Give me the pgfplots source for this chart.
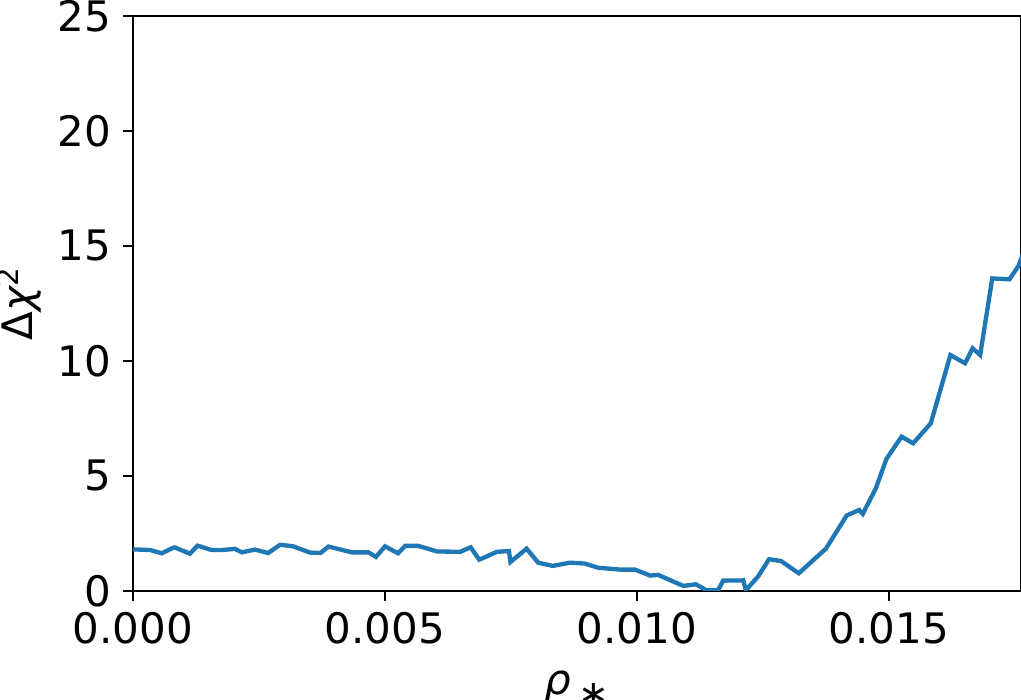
\documentclass[border=0pt]{standalone}
\usepackage{fontspec}
\setmainfont{DejaVu Sans}
\usepackage{pgfplots}
\pgfplotsset{compat=1.18}
\definecolor{c0}{HTML}{1F77B4}
\newcommand{\lblfont}{\fontsize{12.6}{15}\selectfont}

\begin{document}
\begin{tikzpicture}
\begin{axis}[
    scale only axis,
    width=266.4pt, height=172.5pt,
    xmin=0, xmax=0.01762,
    ymin=0, ymax=25,
    xtick={0,0.005,0.01,0.015},
    xticklabels={0.000,0.005,0.010,0.015},
    ytick={0,5,10,15,20,25},
    scaled x ticks=false,
    /pgf/number format/assume math mode=true,
    tick align=outside,
    tick pos=left,
    major tick length=3pt,
    axis line style={line width=0.69pt},
    every tick/.style={line width=0.69pt, black},
    tick label style={font=\lblfont},
    label style={font=\lblfont},
    xlabel={{\itshape ρ}\,\raisebox{-0.3em}{\fontsize{11}{11}\selectfont ∗}},
    ylabel={Δ{\itshape χ}\textsuperscript{2}},
    xlabel style={yshift=-1pt},
    ylabel style={yshift=-2pt},
]
\addplot[c0, line width=1.3pt, no markers] coordinates {
(0,1.81) (0.00034,1.78) (0.00057,1.64) (0.00082,1.90) (0.00113,1.62)
(0.00128,1.97) (0.00156,1.78) (0.00176,1.78) (0.00202,1.83) (0.00216,1.68)
(0.00242,1.80) (0.00268,1.65) (0.00292,2.01) (0.00318,1.94) (0.00351,1.67)
(0.00372,1.65) (0.00388,1.93) (0.00434,1.68) (0.00467,1.68) (0.00482,1.48)
(0.00500,1.94) (0.00526,1.64) (0.00540,1.96) (0.00566,1.96) (0.00603,1.72)
(0.00649,1.70) (0.00670,1.90) (0.00687,1.36) (0.00722,1.70) (0.00746,1.74)
(0.00749,1.26) (0.00781,1.84) (0.00804,1.23) (0.00833,1.09) (0.00867,1.23)
(0.00897,1.19) (0.00923,1.01) (0.00966,0.93) (0.00996,0.93) (0.01026,0.67)
(0.01042,0.70) (0.01092,0.22) (0.01117,0.29) (0.01138,0.03) (0.01161,0.03)
(0.01171,0.45) (0.01211,0.46) (0.01216,0.03) (0.01241,0.65) (0.01262,1.38)
(0.01286,1.30) (0.01321,0.77) (0.01375,1.84) (0.01416,3.28) (0.01441,3.52)
(0.01448,3.35) (0.01474,4.46) (0.01495,5.74) (0.01525,6.71) (0.01548,6.42)
(0.01583,7.29) (0.01622,10.26) (0.01651,9.90) (0.01666,10.55) (0.01681,10.26)
(0.01705,13.59) (0.01739,13.55) (0.01757,14.13) (0.01770,14.9)
};
\end{axis}
\pgfresetboundingbox
\path ([xshift=-39.9pt,yshift=-32.7pt]current axis.south west)
  rectangle ([yshift=4.8pt]current axis.north east);
\end{tikzpicture}
\end{document}
